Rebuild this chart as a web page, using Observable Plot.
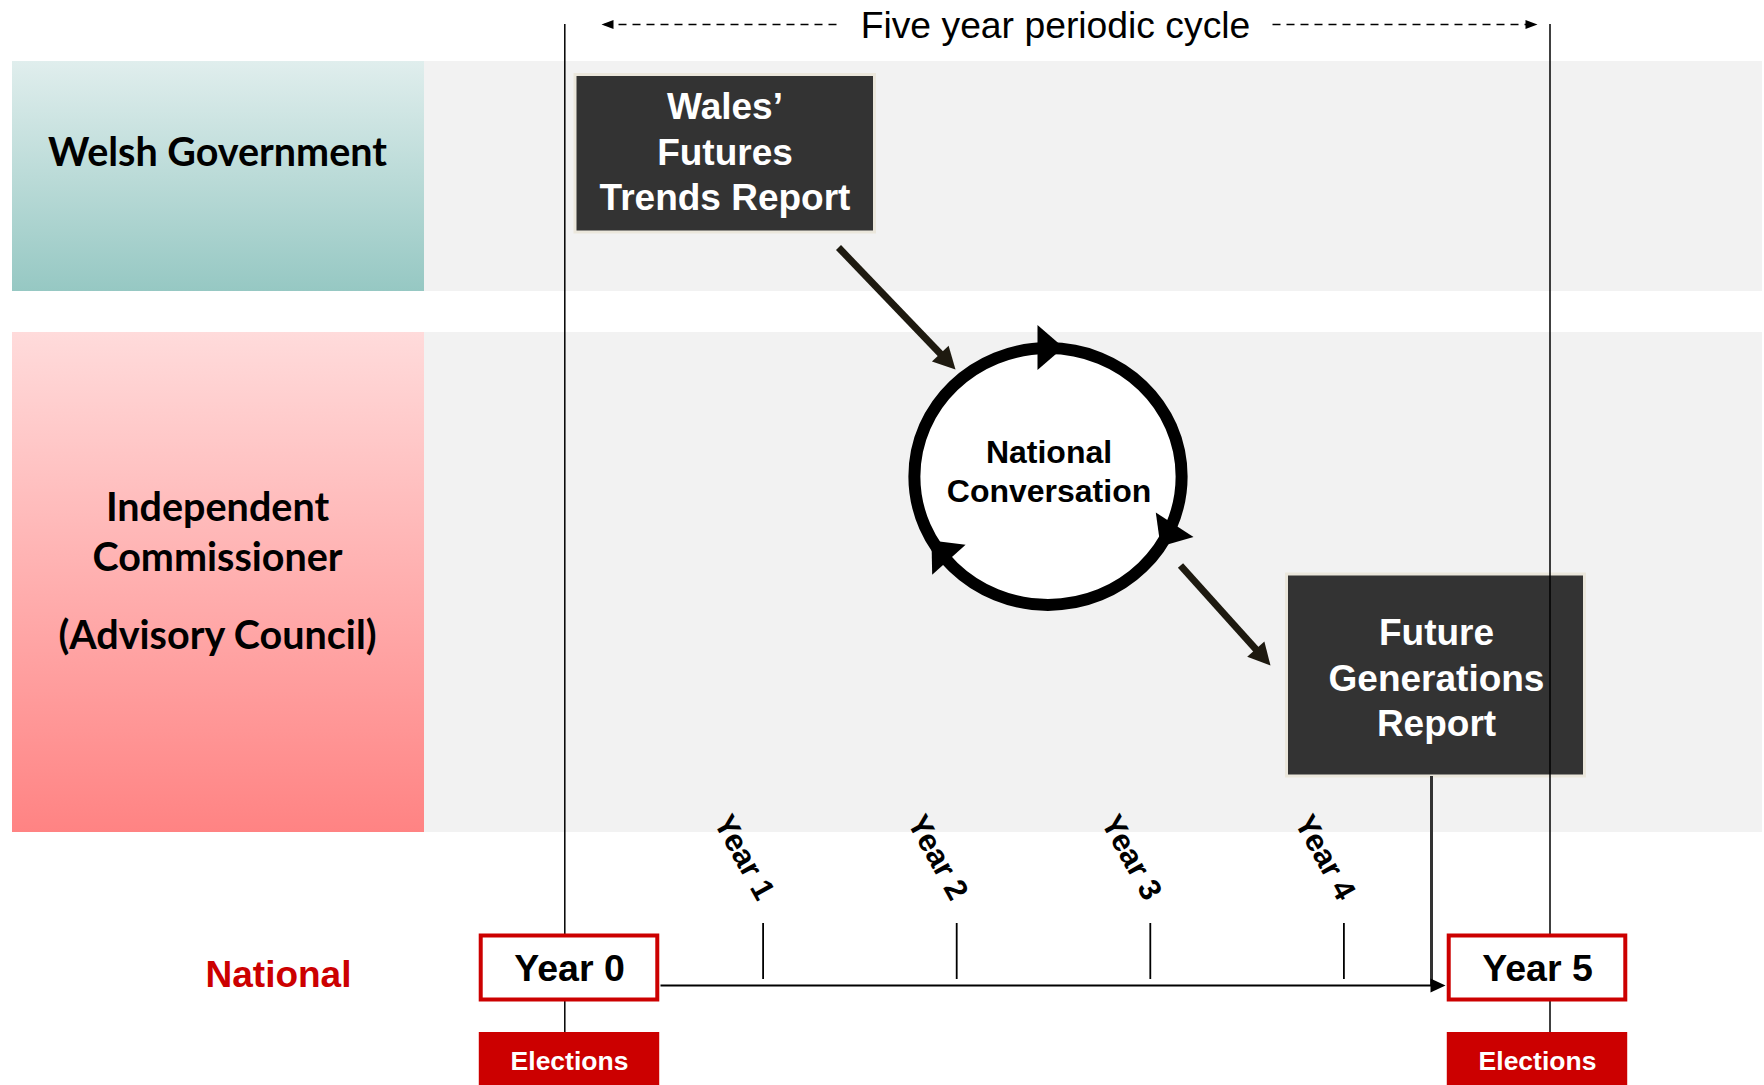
<!DOCTYPE html>
<html>
<head>
<meta charset="utf-8">
<script src="https://cdn.jsdelivr.net/npm/d3@7"></script>
<script src="https://cdn.jsdelivr.net/npm/@observablehq/plot@0.6"></script>
<style>
  html, body { margin: 0; padding: 0; background: #fff; overflow: hidden; }
</style>
</head>
<body>
<div id="chart"></div>
<script>
// ---------------- data ----------------
const cycleTitle = "Five year periodic cycle";
const lanes = ["Welsh Government", "Independent Commissioner (Advisory Council)", "National"];
const laneLines = [["Welsh Government"], ["Independent", "Commissioner", "(Advisory Council)"], ["National"]];
const years = [0, 1, 2, 3, 4, 5];
const yearNames = ["Year 0", "Year 1", "Year 2", "Year 3", "Year 4", "Year 5"];
const milestoneYears = [0, 5];
const electionLabel = "Elections";
const reportNames = ["Wales’\nFutures\nTrends Report", "Future\nGenerations\nReport"];
const reportLanes = [lanes[0], lanes[1]];
const conversationName = "National\nConversation";

// ---------------- layout (pixels of the 1764×1085 canvas) ----------------
const W = 1764, H = 1085;
const Y0PX = 569, YEARPX = 193.6;              // year 0 centre, pixels per year
const X = v => (v - Y0PX) / YEARPX;            // pixel -> year units
const SANS = "Liberation Sans, Arial, Helvetica, sans-serif";
const HUMAN = "Lato, Calibri, 'Open Sans', sans-serif";

const bands = [
  {lane: lanes[0], y1: 61, y2: 291},
  {lane: lanes[1], y1: 332, y2: 832}
];
const laneText = [
  {t: laneLines[0][0], y: 152.5},
  {t: laneLines[1][0], y: 507.5},
  {t: laneLines[1][1], y: 557.5},
  {t: laneLines[1][2], y: 635.5}
];
const reportBoxes = [
  {name: reportNames[0], lane: reportLanes[0], x1: 575, x2: 874.5, y1: 74.5, y2: 232, ty: 149.5, tx: 724.5},
  {name: reportNames[1], lane: reportLanes[1], x1: 1286.5, x2: 1584.5, y1: 574, y2: 776, ty: 675.5, tx: 1436}
];
const flows = [
  {x1: 838, y1: 247, x2: 955, y2: 369},
  {x1: 1180, y1: 565, x2: 1270, y2: 665}
];
const cycleHeads = [
  {x: 1063, y: 347, a: 0},
  {x: 1160, y: 546, a: 123},
  {x: 931, y: 540, a: 228}
];
const yearTicks = years.filter(y => y > 0 && y < 5);

// custom symbols
const head = ratio => ({
  draw(ctx, size) {
    const L = Math.sqrt(size / Math.PI), w = L * ratio;
    ctx.moveTo(0, 0); ctx.lineTo(w / 2, L); ctx.lineTo(-w / 2, L); ctx.closePath();
  }
});
const ellipse = {
  draw(ctx, size) {
    const r = Math.sqrt(size / Math.PI), rx = r * 1.02, ry = r * 0.98, k = 0.5523;
    ctx.moveTo(rx, 0);
    ctx.bezierCurveTo(rx, ry * k, rx * k, ry, 0, ry);
    ctx.bezierCurveTo(-rx * k, ry, -rx, ry * k, -rx, 0);
    ctx.bezierCurveTo(-rx, -ry * k, -rx * k, -ry, 0, -ry);
    ctx.bezierCurveTo(rx * k, -ry, rx, -ry * k, rx, 0);
    ctx.closePath();
  }
};

const flowBase = (d, back) => {
  const dx = d.x2 - d.x1, dy = d.y2 - d.y1, L = Math.hypot(dx, dy);
  return {x: d.x2 - dx / L * back, y: d.y2 - dy / L * back};
};
const flowAngle = d => Math.atan2(d.y2 - d.y1, d.x2 - d.x1) * 180 / Math.PI;

const svg = Plot.plot({
  width: W, height: H,
  margin: 0,
  style: {background: "white", overflow: "visible"},
  x: {domain: [0, 5], range: [Y0PX, Y0PX + 5 * YEARPX], axis: null},
  y: {domain: [0, H], range: [0, H], axis: null},
  marks: [
    // swimlane bands
    Plot.rect(bands, {x1: X(424), x2: X(1762), y1: "y1", y2: "y2", fill: "#f2f2f2"}),
    Plot.rect([bands[0]], {x1: X(12), x2: X(424), y1: "y1", y2: "y2", fill: "url(#tealGrad)"}),
    Plot.rect([bands[1]], {x1: X(12), x2: X(424), y1: "y1", y2: "y2", fill: "url(#pinkGrad)"}),
    Plot.text(laneText, {x: X(217), y: "y", text: "t", fontFamily: HUMAN, fontWeight: "bold", fontSize: 39.5, fill: "black"}),

    // cycle title with dashed arrows
    Plot.text([cycleTitle], {x: X(1055), y: 25.2, text: d => d, fontFamily: SANS, fontSize: 37.3, fill: "black"}),
    Plot.link([{a: 604, b: 840}, {a: 1272, b: 1526}], {x1: d => X(d.a), x2: d => X(d.b), y1: 24, y2: 24, stroke: "black", strokeWidth: 1.6, strokeDasharray: "8,6"}),
    Plot.dot([{x: 601, a: 180}, {x: 1537, a: 0}], {x: d => X(d.x), y: 24, r: 12, symbol: head(0.75), rotate: d => d.a + 90, fill: "black", stroke: "none"}),

    // report boxes
    Plot.rect(reportBoxes, {x1: d => X(d.x1), x2: d => X(d.x2), y1: "y1", y2: "y2", fill: "#333333", stroke: "#ebe7dc", strokeWidth: 3}),

    // cycle boundaries
    Plot.ruleX([X(564.3), X(1549.5)], {y1: 24, y2: 1032, stroke: "black", strokeWidth: 1.5}),

    Plot.text(reportBoxes, {x: d => X(d.tx), y: "ty", text: "name", fontFamily: SANS, fontWeight: "bold", fontSize: 37, lineHeight: 1.23, fill: "white"}),

    // flow arrows
    Plot.link(flows, {x1: d => X(d.x1), y1: "y1", x2: d => X(flowBase(d, 18).x), y2: d => flowBase(d, 18).y, stroke: "#1e1a10", strokeWidth: 7}),
    Plot.dot(flows, {x: d => X(d.x2), y: "y2", r: 22, symbol: head(1.05), rotate: d => flowAngle(d) + 90, fill: "#1e1a10", stroke: "none"}),

    // national conversation cycle
    Plot.dot([conversationName], {x: X(1047.5), y: 476, r: 131, symbol: ellipse, fill: "white", stroke: "black", strokeWidth: 12}),
    Plot.dot(cycleHeads, {x: d => X(d.x), y: "y", r: 26, symbol: head(1.73), rotate: d => d.a + 90, fill: "black", stroke: "none"}),
    Plot.text([conversationName], {x: X(1048.5), y: 469.5, text: d => d, fontFamily: SANS, fontWeight: "bold", fontSize: 32, lineHeight: 1.23, fill: "black"}),

    // timeline
    Plot.ruleX([X(1431)], {y1: 776, y2: 985, stroke: "#333333", strokeWidth: 3}),
    Plot.link([0], {x1: X(660), x2: X(1434), y1: 985, y2: 985, stroke: "black", strokeWidth: 2.2}),
    Plot.dot([5], {x: X(1445), y: 985, r: 15, symbol: head(0.93), rotate: 90, fill: "black", stroke: "none"}),
    Plot.ruleX(yearTicks, {x: d => d, y1: 923, y2: 979, stroke: "black", strokeWidth: 1.8}),
    Plot.text(yearTicks, {x: d => d - 19 / YEARPX, y: 857, text: d => yearNames[d], rotate: 61, fontFamily: SANS, fontWeight: "bold", fontSize: 31, fill: "black"}),

    // milestones
    Plot.rect(milestoneYears, {x1: d => d - 0.456, x2: d => d + 0.456, y1: 935.5, y2: 999.5, fill: "white", stroke: "#cc0000", strokeWidth: 4}),
    Plot.text(milestoneYears, {x: d => d, y: 968.5, text: d => yearNames[d], fontFamily: SANS, fontWeight: "bold", fontSize: 37.5, fill: "black"}),
    Plot.rect(milestoneYears, {x1: d => d - 0.466, x2: d => d + 0.466, y1: 1032, y2: 1092, fill: "#cc0000"}),
    Plot.text(milestoneYears, {x: d => d, y: 1061.5, text: () => electionLabel, fontFamily: SANS, fontWeight: "bold", fontSize: 26.5, fill: "white"}),

    // national lane label
    Plot.text([laneLines[2][0]], {x: X(278), y: 975, text: d => d, fontFamily: SANS, fontWeight: "bold", fontSize: 37, fill: "#cc0000"})
  ]
});

// gradients for the lane headers
const defs = d3.select(svg).insert("defs", ":first-child");
const grad = (id, top, bottom) => {
  const g = defs.append("linearGradient").attr("id", id).attr("x1", 0).attr("y1", 0).attr("x2", 0).attr("y2", 1);
  g.append("stop").attr("offset", "0%").attr("stop-color", top);
  g.append("stop").attr("offset", "100%").attr("stop-color", bottom);
};
grad("tealGrad", "#e0eeed", "#96c8c3");
grad("pinkGrad", "#ffdbdb", "#ff8383");

document.getElementById("chart").appendChild(svg);
</script>
</body>
</html>
